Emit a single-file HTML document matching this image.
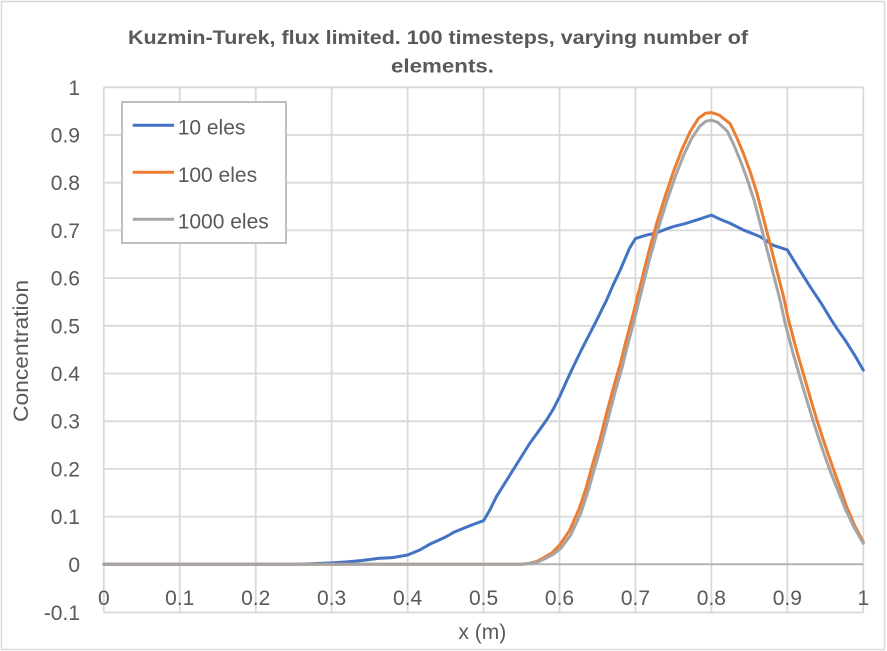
<!DOCTYPE html>
<html>
<head>
<meta charset="utf-8">
<style>
  html, body { margin:0; padding:0; background:#ffffff; }
  body { width:887px; height:651px; overflow:hidden; }
  svg { display:block; }
  text { font-family: "Liberation Sans", Arial, sans-serif; fill:#595959; }
</style>
</head>
<body>
<svg width="887" height="651" viewBox="0 0 887 651" xmlns="http://www.w3.org/2000/svg">
  <rect x="0" y="0" width="887" height="651" fill="#ffffff"/>
  <rect x="1.5" y="1.5" width="883" height="648" fill="#ffffff" stroke="#d9d9d9" stroke-width="1.5"/>

  <!-- Title -->
  <text x="438" y="44" text-anchor="middle" font-size="19" font-weight="bold" textLength="620" lengthAdjust="spacingAndGlyphs">Kuzmin-Turek, flux limited. 100 timesteps, varying number of</text>
  <text x="442.5" y="72.5" text-anchor="middle" font-size="19" font-weight="bold" textLength="103" lengthAdjust="spacingAndGlyphs">elements.</text>

  <!-- Gridlines -->
  <g stroke="#d9d9d9" stroke-width="1.8" fill="none">
    <line x1="103.8" y1="87.3" x2="863.3" y2="87.3"/>
    <line x1="103.8" y1="135.0" x2="863.3" y2="135.0"/>
    <line x1="103.8" y1="182.7" x2="863.3" y2="182.7"/>
    <line x1="103.8" y1="230.4" x2="863.3" y2="230.4"/>
    <line x1="103.8" y1="278.1" x2="863.3" y2="278.1"/>
    <line x1="103.8" y1="325.8" x2="863.3" y2="325.8"/>
    <line x1="103.8" y1="373.5" x2="863.3" y2="373.5"/>
    <line x1="103.8" y1="421.2" x2="863.3" y2="421.2"/>
    <line x1="103.8" y1="468.9" x2="863.3" y2="468.9"/>
    <line x1="103.8" y1="516.6" x2="863.3" y2="516.6"/>
    <line x1="103.8" y1="612.5" x2="863.3" y2="612.5"/>

    <line x1="103.8" y1="87.3" x2="103.8" y2="612.5"/>
    <line x1="179.75" y1="87.3" x2="179.75" y2="612.5"/>
    <line x1="255.7" y1="87.3" x2="255.7" y2="612.5"/>
    <line x1="331.65" y1="87.3" x2="331.65" y2="612.5"/>
    <line x1="407.6" y1="87.3" x2="407.6" y2="612.5"/>
    <line x1="483.55" y1="87.3" x2="483.55" y2="612.5"/>
    <line x1="559.5" y1="87.3" x2="559.5" y2="612.5"/>
    <line x1="635.45" y1="87.3" x2="635.45" y2="612.5"/>
    <line x1="711.4" y1="87.3" x2="711.4" y2="612.5"/>
    <line x1="787.35" y1="87.3" x2="787.35" y2="612.5"/>
    <line x1="863.3" y1="87.3" x2="863.3" y2="612.5"/>
  </g>
  <!-- zero axis -->
  <line x1="103.8" y1="564.3" x2="863.3" y2="564.3" stroke="#b3b3b3" stroke-width="2"/>

  <!-- Series -->
  <g transform="translate(103.8,564.3) scale(759.5,-477)" fill="none" stroke-linejoin="round" stroke-linecap="round">
    <polyline vector-effect="non-scaling-stroke" stroke="#4472C4" stroke-width="3"
      points="0,0 0.25,0 0.27,0.001 0.3,0.003 0.32,0.005 0.34,0.008 0.363,0.0126 0.38,0.014 0.4,0.0195 0.416,0.030 0.429,0.042 0.44,0.05 0.451,0.058 0.462,0.068 0.473,0.075 0.487,0.084 0.5,0.0915 0.508,0.113 0.517,0.142 0.528,0.17 0.539,0.198 0.550,0.226 0.561,0.254 0.572,0.278 0.583,0.3025 0.592,0.326 0.6,0.351 0.609,0.383 0.618,0.414 0.629,0.45 0.640,0.484 0.649,0.512 0.662,0.554 0.671,0.587 0.680,0.617 0.692,0.662 0.700,0.683 0.714,0.69 0.728,0.695 0.739,0.702 0.750,0.708 0.765,0.714 0.781,0.722 0.800,0.732 0.812,0.723 0.8245,0.715 0.842,0.701 0.853,0.694 0.864,0.687 0.881,0.669 0.900,0.659 0.915,0.62 0.930,0.582 0.945,0.546 0.958,0.512 0.965,0.495 0.976,0.47 0.988,0.44 1.0,0.407"/>
    <polyline vector-effect="non-scaling-stroke" stroke="#ED7D31" stroke-width="3"
      points="0,0 0.55,0 0.56,0.002 0.57,0.006 0.578,0.0126 0.59,0.024 0.60,0.040 0.613,0.07 0.626,0.117 0.635,0.16 0.644,0.212 0.653,0.26 0.662,0.317 0.671,0.37 0.68,0.42 0.687,0.465 0.695,0.512 0.706,0.582 0.717,0.652 0.728,0.715 0.739,0.771 0.750,0.823 0.761,0.869 0.772,0.907 0.783,0.935 0.792,0.9455 0.800,0.947 0.810,0.942 0.8245,0.924 0.833,0.896 0.842,0.862 0.851,0.823 0.860,0.778 0.868,0.729 0.877,0.673 0.886,0.617 0.895,0.561 0.901,0.516 0.911,0.455 0.921,0.40 0.930,0.35 0.939,0.302 0.950,0.248 0.961,0.198 0.970,0.158 0.978,0.121 0.989,0.08 1.0,0.047"/>
    <polyline vector-effect="non-scaling-stroke" stroke="#A5A5A5" stroke-width="3"
      points="0,0 0.552,0 0.562,0.002 0.572,0.005 0.58,0.011 0.592,0.021 0.602,0.034 0.615,0.062 0.628,0.107 0.637,0.15 0.646,0.2 0.655,0.25 0.664,0.305 0.673,0.36 0.682,0.41 0.689,0.455 0.697,0.503 0.708,0.573 0.719,0.642 0.730,0.704 0.741,0.760 0.752,0.811 0.763,0.856 0.774,0.893 0.785,0.919 0.793,0.929 0.800,0.931 0.808,0.927 0.821,0.908 0.829,0.881 0.838,0.847 0.847,0.808 0.856,0.764 0.864,0.716 0.873,0.661 0.882,0.606 0.891,0.550 0.897,0.506 0.907,0.445 0.917,0.390 0.926,0.342 0.935,0.295 0.946,0.242 0.957,0.193 0.967,0.153 0.976,0.117 0.988,0.077 1.0,0.044"/>
  </g>

  <!-- Y tick labels -->
  <g font-size="21" text-anchor="end">
    <text x="80" y="94.8">1</text>
    <text x="80" y="142.5">0.9</text>
    <text x="80" y="190.2">0.8</text>
    <text x="80" y="237.9">0.7</text>
    <text x="80" y="285.6">0.6</text>
    <text x="80" y="333.3">0.5</text>
    <text x="80" y="381">0.4</text>
    <text x="80" y="428.7">0.3</text>
    <text x="80" y="476.4">0.2</text>
    <text x="80" y="524.1">0.1</text>
    <text x="80" y="571.8">0</text>
    <text x="80" y="619.8">-0.1</text>
  </g>

  <!-- X tick labels -->
  <g font-size="21" text-anchor="middle">
    <text x="103.8" y="605">0</text>
    <text x="179.75" y="605">0.1</text>
    <text x="255.7" y="605">0.2</text>
    <text x="331.65" y="605">0.3</text>
    <text x="407.6" y="605">0.4</text>
    <text x="483.55" y="605">0.5</text>
    <text x="559.5" y="605">0.6</text>
    <text x="635.45" y="605">0.7</text>
    <text x="711.4" y="605">0.8</text>
    <text x="787.35" y="605">0.9</text>
    <text x="863.3" y="605">1</text>
  </g>

  <!-- Axis titles -->
  <text transform="translate(28,351) rotate(-90)" text-anchor="middle" font-size="21" textLength="142" lengthAdjust="spacingAndGlyphs">Concentration</text>
  <text x="482.3" y="639" text-anchor="middle" font-size="21">x (m)</text>

  <!-- Legend -->
  <rect x="122" y="102" width="164" height="141" fill="#ffffff" stroke="#bfbfbf" stroke-width="2"/>
  <line x1="132.7" y1="125.3" x2="174" y2="125.3" stroke="#4472C4" stroke-width="3"/>
  <line x1="132.7" y1="172.3" x2="174" y2="172.3" stroke="#ED7D31" stroke-width="3"/>
  <line x1="132.7" y1="219.3" x2="174" y2="219.3" stroke="#A5A5A5" stroke-width="3"/>
  <g font-size="21">
    <text x="177.7" y="134.7">10 eles</text>
    <text x="177.7" y="182">100 eles</text>
    <text x="177.7" y="228.5">1000 eles</text>
  </g>
</svg>
</body>
</html>
